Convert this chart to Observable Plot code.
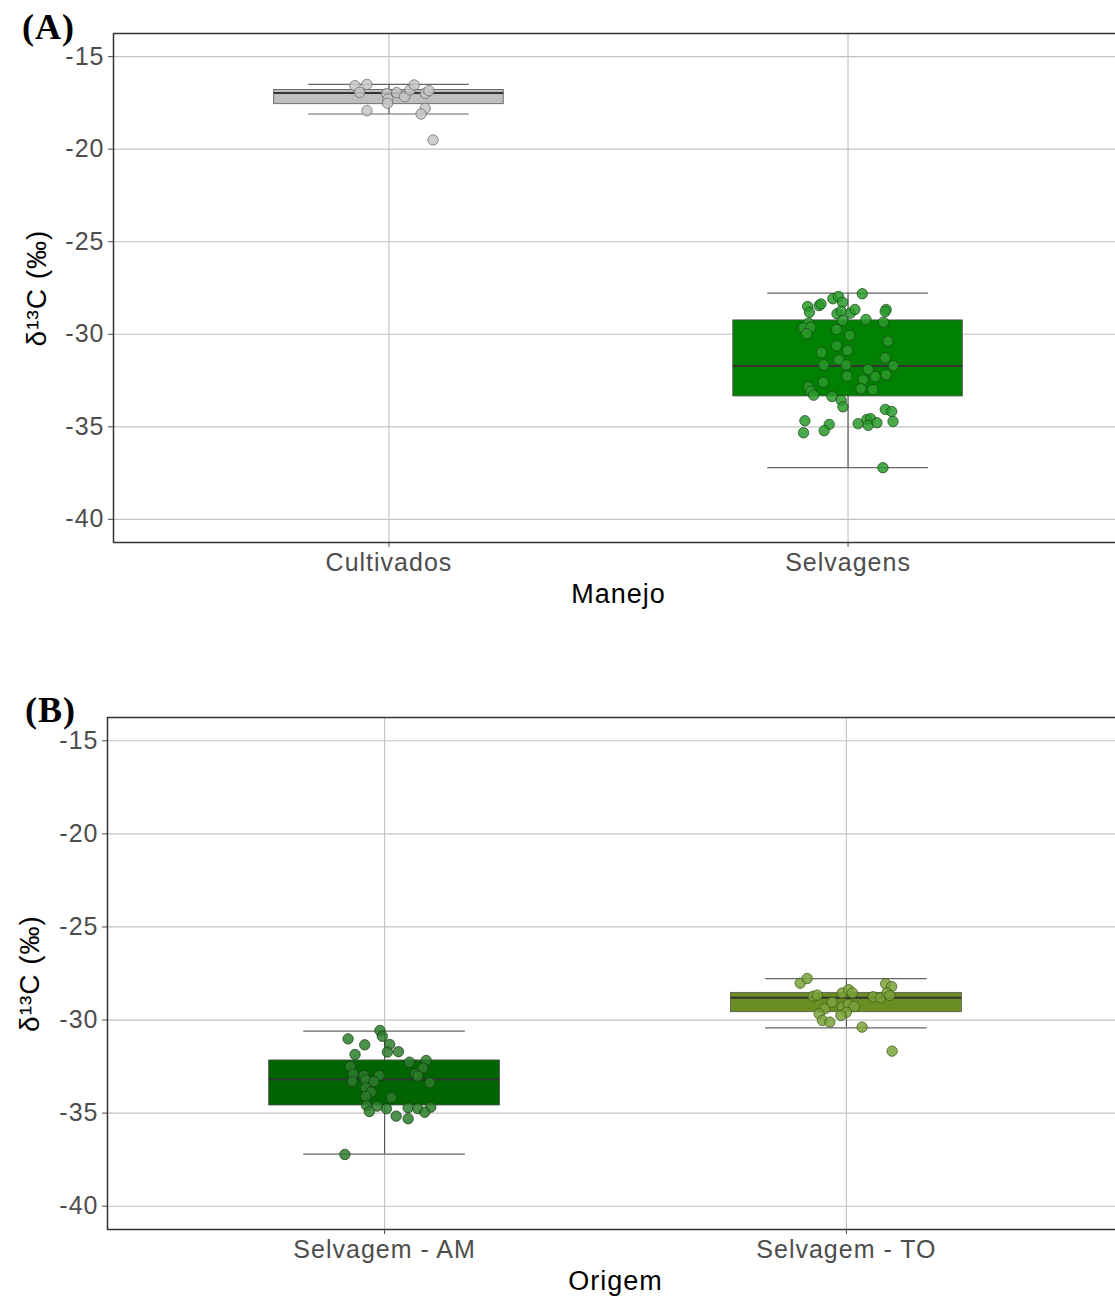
<!DOCTYPE html>
<html>
<head>
<meta charset="utf-8">
<script src="https://cdn.jsdelivr.net/npm/d3@7"></script>
<script src="https://cdn.jsdelivr.net/npm/@observablehq/plot@0.6"></script>
<style>
  html, body { margin: 0; padding: 0; background: #fff; overflow: hidden; }
  #wrap { position: relative; width: 1115px; height: 1298px; overflow: hidden; background: #fff; }
  .panel { position: absolute; left: 0; z-index: 1; }
  .panel svg { max-width: none !important; height: auto; }
  .tag { position: absolute; z-index: 5; font-family: "Liberation Serif", "Times New Roman", serif; font-weight: bold; font-size: 36px; color: #000; line-height: 1; letter-spacing: 1px; }
</style>
</head>
<body>
<div id="wrap">
  <div class="tag" style="left:22px; top:9px;">(A)</div>
  <div class="tag" style="left:25px; top:692px;">(B)</div>
  <div class="panel" id="pa" style="top:0px;"></div>
  <div class="panel" id="pb" style="top:684px;"></div>
</div>
<script>
// ---------- shared axis data ----------
const yTicks = [-40, -35, -30, -25, -20, -15];
const yDomain = [-41.25, -13.75];
const yTitle = "δ¹³C (‰)";

// ---------- Panel A ----------
const catsA = ["Cultivados", "Selvagens"];
const titleA = "Manejo";
const boxFillA = ["#bebebe", "#008000"];
const pointFillA = ["#c6c6c6", "#2a9a2a"];
const pointStrokeA = ["#6a6a6a", "#1b4a1b"];
const whiskerLowA = [-18.10, -37.21];
const q1A = [-17.57, -33.36];
const medianA = [-16.96, -31.72];
const q3A = [-16.80, -29.25];
const whiskerHighA = [-16.50, -27.78];

const cultivadosValues = [-16.57, -16.50, -16.93, -17.00, -17.29, -17.52, -16.94, -17.16, -16.80, -16.53, -16.98, -16.84, -17.79, -18.10, -17.92, -19.50];
const cultivadosJitter = [-0.074, -0.048, -0.064, -0.005, -0.002, -0.003, 0.017, 0.034, 0.046, 0.055, 0.079, 0.087, 0.079, 0.070, -0.048, 0.096];

const selvagensValues = [-27.81, -28.08, -27.96, -28.27, -28.50, -28.81, -28.45, -28.36, -28.89, -28.75, -28.86, -28.66, -28.66, -28.77, -29.20, -29.35, -29.40, -29.65, -29.62, -29.97,
  -29.25, -29.74, -30.06, -30.37, -30.62, -30.98, -30.87, -31.27, -31.38, -31.65, -31.65, -31.70, -31.90, -32.19, -32.28, -32.26, -32.46, -32.59, -32.94, -32.99,
  -32.85, -33.07, -33.29, -33.36, -33.57, -33.92, -34.06, -34.17, -34.67, -35.32, -34.87, -35.21, -34.83, -34.60, -34.56, -34.92, -34.78, -34.71, -37.21];
const selvagensJitter = [0.031, -0.033, -0.021, -0.012, -0.088, -0.084, -0.063, -0.059, -0.024, -0.015, 0.005, 0.015, 0.083, 0.081, 0.039, 0.077, -0.086, -0.097, -0.081, -0.090,
  -0.012, -0.025, 0.004, 0.087, -0.025, -0.058, -0.001, 0.081, -0.020, -0.053, -0.004, 0.099, 0.044, 0.083, 0.059, -0.002, 0.033, -0.054, 0.028, 0.054,
  -0.086, -0.081, -0.075, -0.035, -0.015, -0.011, 0.081, 0.095, -0.094, -0.097, -0.041, -0.052, 0.022, 0.041, 0.049, 0.044, 0.063, 0.098, 0.076];

// ---------- Panel B ----------
const catsB = ["Selvagem - AM", "Selvagem - TO"];
const titleB = "Origem";
const boxFillB = ["#006400", "#6b8e23"];
const pointFillB = ["#2c7c2c", "#7aa23a"];
const pointStrokeB = ["#163d16", "#3f5a18"];
const whiskerLowB = [-37.20, -30.42];
const q1B = [-34.59, -29.58];
const medianB = [-33.19, -28.80];
const q3B = [-32.17, -28.54];
const whiskerHighB = [-30.60, -27.77];

const amValues = [-30.56, -30.87, -31.01, -31.33, -31.31, -31.72, -31.70, -31.85, -32.26, -32.17, -32.58, -32.49, -32.89, -32.89, -32.98, -32.98, -33.01, -33.30,
  -33.21, -33.30, -33.37, -33.64, -33.87, -34.17, -34.10, -34.59, -34.62, -34.76, -34.71, -34.76, -34.68, -34.95, -34.91, -35.16, -35.30, -37.22];
const amJitter = [-0.010, -0.005, -0.079, -0.043, 0.011, 0.006, 0.030, -0.064, 0.054, 0.090, 0.083, -0.074, 0.067, -0.068, -0.045, -0.012, 0.072, -0.070,
  -0.041, -0.023, 0.098, -0.041, -0.029, 0.015, -0.041, -0.039, -0.016, 0.004, 0.051, 0.072, 0.100, 0.087, -0.033, 0.025, 0.051, -0.086];

const toValues = [-28.02, -27.77, -28.72, -28.66, -28.55, -28.37, -28.54, -29.04, -29.40, -29.31, -29.16, -29.27, -29.58, -29.75, -29.66, -30.02, -30.11, -30.38,
  -28.75, -28.80, -28.05, -28.20, -28.54, -28.68, -31.67];
const toJitter = [-0.100, -0.085, -0.072, -0.063, -0.009, 0.005, 0.013, -0.031, -0.047, -0.009, 0.004, 0.017, 0.000, -0.012, -0.059, -0.052, -0.036, 0.034,
  0.058, 0.074, 0.085, 0.098, 0.088, 0.094, 0.099];

// ---------- drawing ----------
const BOX_HALF = 0.25, CAP_HALF = 0.175;
const FONT = "'Liberation Sans', Arial, Helvetica, sans-serif";

function panel(cfg) {
  const boxes = cfg.cats.map((c, k) => ({
    i: k + 1, fill: cfg.boxFill[k],
    wl: cfg.wl[k], q1: cfg.q1[k], med: cfg.med[k], q3: cfg.q3[k], wh: cfg.wh[k]
  }));
  const pts = cfg.groups.flatMap((g, k) => g.values.map((v, j) => ({
    x: k + 1 + g.jitter[j], v, fill: cfg.pointFill[k], stroke: cfg.pointStroke[k]
  })));
  const svg = Plot.plot({
    width: 1123,
    height: cfg.height,
    marginLeft: cfg.marginLeft,
    marginRight: 0,
    marginTop: 33,
    marginBottom: cfg.marginBottom,
    style: { fontFamily: FONT, background: "#fff", overflow: "visible", maxWidth: "none" },
    x: { type: "linear", domain: [0.4, 2.6], axis: null },
    y: { domain: yDomain, axis: null },
    marks: [
      Plot.gridY(yTicks, { stroke: "#c4c4c4", strokeOpacity: 1, strokeWidth: 1.2 }),
      Plot.gridX([1, 2], { stroke: "#c4c4c4", strokeOpacity: 1, strokeWidth: 1.2 }),
      // errorbar: vertical line and caps
      Plot.ruleX(boxes, { x: "i", y1: "wl", y2: "wh", stroke: "#555", strokeWidth: 1.1 }),
      Plot.ruleY(boxes, { y: "wh", x1: d => d.i - CAP_HALF, x2: d => d.i + CAP_HALF, stroke: "#666", strokeWidth: 1.2 }),
      Plot.ruleY(boxes, { y: "wl", x1: d => d.i - CAP_HALF, x2: d => d.i + CAP_HALF, stroke: "#666", strokeWidth: 1.2 }),
      // box
      Plot.rect(boxes, { x1: d => d.i - BOX_HALF, x2: d => d.i + BOX_HALF, y1: "q1", y2: "q3", fill: d => d.fill, stroke: "#555", strokeWidth: 0.8 }),
      Plot.ruleY(boxes, { y: "med", x1: d => d.i - BOX_HALF, x2: d => d.i + BOX_HALF, stroke: "#333", strokeWidth: 2 }),
      // jittered points
      Plot.dot(pts, { x: "x", y: "v", r: 5.2, fill: d => d.fill, stroke: d => d.stroke, fillOpacity: 0.85, strokeOpacity: 0.75, strokeWidth: 1 }),
      // frame & axes
      Plot.frame({ stroke: "#333", strokeWidth: 1.5 }),
      Plot.axisY(yTicks, { tickSize: 5, tickPadding: 4, fontSize: 25, color: "#4d4d4d", label: null, tickFormat: d => d }),
      Plot.axisX([1, 2], { tickSize: 5, tickPadding: 6, fontSize: 25, color: "#4d4d4d", label: null, tickFormat: d => cfg.cats[d - 1] }),
      Plot.text([cfg.xTitle], { frameAnchor: "bottom", dy: 60, fontSize: 27, fill: "#000", text: d => d }),
      Plot.text([yTitle], { frameAnchor: "left", dx: cfg.yTitleDx, rotate: -90, textAnchor: "middle", fontSize: 28, fill: "#000", text: d => d })
    ]
  });
  d3.select(svg).selectAll("text").style("letter-spacing", "1px");
  return svg;
}

document.getElementById("pa").append(panel({
  cats: catsA, boxFill: boxFillA, wl: whiskerLowA, q1: q1A, med: medianA, q3: q3A, wh: whiskerHighA,
  groups: [{ values: cultivadosValues, jitter: cultivadosJitter }, { values: selvagensValues, jitter: selvagensJitter }],
  pointFill: pointFillA, pointStroke: pointStrokeA,
  height: 612, marginLeft: 113, marginBottom: 70, xTitle: titleA, yTitleDx: -76
}));

document.getElementById("pb").append(panel({
  cats: catsB, boxFill: boxFillB, wl: whiskerLowB, q1: q1B, med: medianB, q3: q3B, wh: whiskerHighB,
  groups: [{ values: amValues, jitter: amJitter }, { values: toValues, jitter: toJitter }],
  pointFill: pointFillB, pointStroke: pointStrokeB,
  height: 614, marginLeft: 107, marginBottom: 69, xTitle: titleB, yTitleDx: -77
}));
</script>
</body>
</html>
